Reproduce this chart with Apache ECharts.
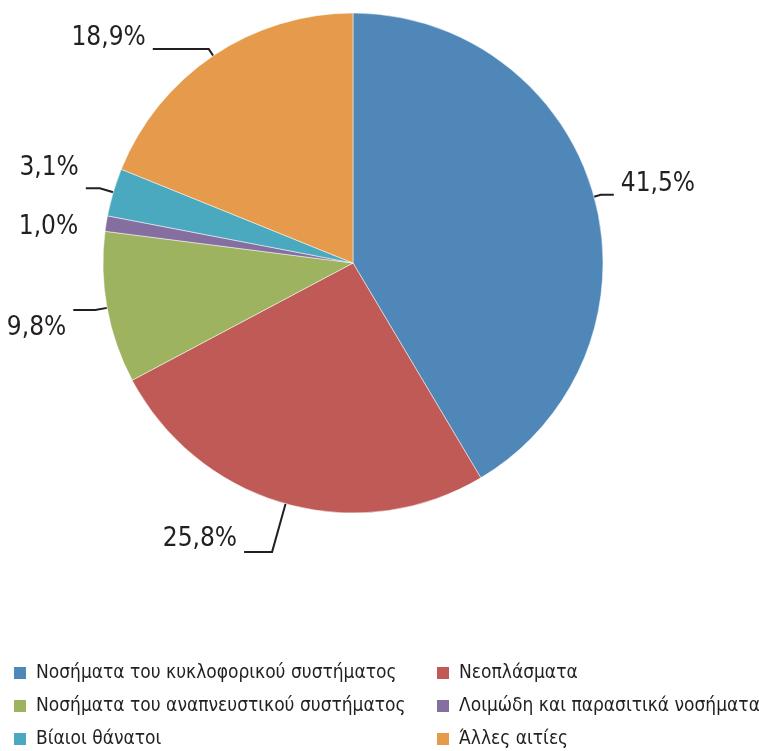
<!DOCTYPE html>
<html>
<head>
<meta charset="utf-8">
<script src="https://cdn.jsdelivr.net/npm/echarts@6/dist/echarts.min.js"></script>
<style>
  html, body { margin: 0; padding: 0; background: #fff; }
  #chart { width: 759px; height: 751px; }
</style>
</head>
<body>
<div id="chart"></div>
<script>
// categories in drawing order (clockwise from 12 o'clock)
var causes = [
  'Νοσήματα του κυκλοφορικού συστήματος',
  'Νεοπλάσματα',
  'Νοσήματα του αναπνευστικού συστήματος',
  'Λοιμώδη και παρασιτικά νοσήματα',
  'Βίαιοι θάνατοι',
  'Άλλες αιτίες'
];
var shares = [41.5, 25.8, 9.8, 1.0, 3.1, 18.9];
var colours = ['#5087b9', '#bf5a56', '#9db35f', '#856ea0', '#4aa9be', '#e59a4c'];
// leader line lengths per slice [first, second]
var leader = [[7, 13], [50, 28], [12, 22], [4, 17], [14, 14], [8, 56]];
// vertical nudge of each label relative to its leader end
var labelShift = [-11, -13, 18, 4, -20, -11];

var FONT = '"Liberation Sans Narrow", "DejaVu Sans Condensed", "Roboto", sans-serif';

var chart = echarts.init(document.getElementById('chart'));

var pieData = causes.map(function (name, i) {
  return {
    name: name,
    value: shares[i],
    itemStyle: { color: colours[i] },
    labelLine: {
      length: leader[i][0], length2: leader[i][1],
      lineStyle: i === 3 ? { opacity: 0 } : {}
    }
  };
});

// legend: two columns, three rows
var legendSlots = [[12, 662], [435, 662], [12, 695], [435, 695], [12, 728], [435, 728]];
var legends = causes.map(function (name, i) {
  return {
    orient: 'vertical',
    left: legendSlots[i][0], top: legendSlots[i][1],
    padding: 0,
    itemWidth: 14, itemHeight: 14, icon: 'rect',
    textStyle: { fontFamily: FONT, fontSize: 19, lineHeight: 22, color: '#231f20', padding: [0, 0, 0, 4] },
    data: [name]
  };
});

var option = {
  animation: false,
  legend: legends,
  series: [{
    type: 'pie',
    center: [353, 263],
    radius: 250,
    startAngle: 90,
    clockwise: true,
    avoidLabelOverlap: false,
    itemStyle: { borderColor: '#fff', borderWidth: 0.5 },
    label: {
      show: true,
      overflow: 'none',
      fontFamily: FONT,
      fontSize: 26,
      lineHeight: 26,
      distanceToLabelLine: 7,
      color: '#231f20',
      formatter: function (p) { return p.value.toFixed(1).replace('.', ',') + '%'; }
    },
    labelLine: {
      show: true,
      lineStyle: { color: '#231f20', width: 2 }
    },
    labelLayout: function (params) {
      return { dy: labelShift[params.dataIndex] };
    },
    data: pieData
  }]
};

chart.setOption(option);
</script>
</body>
</html>
